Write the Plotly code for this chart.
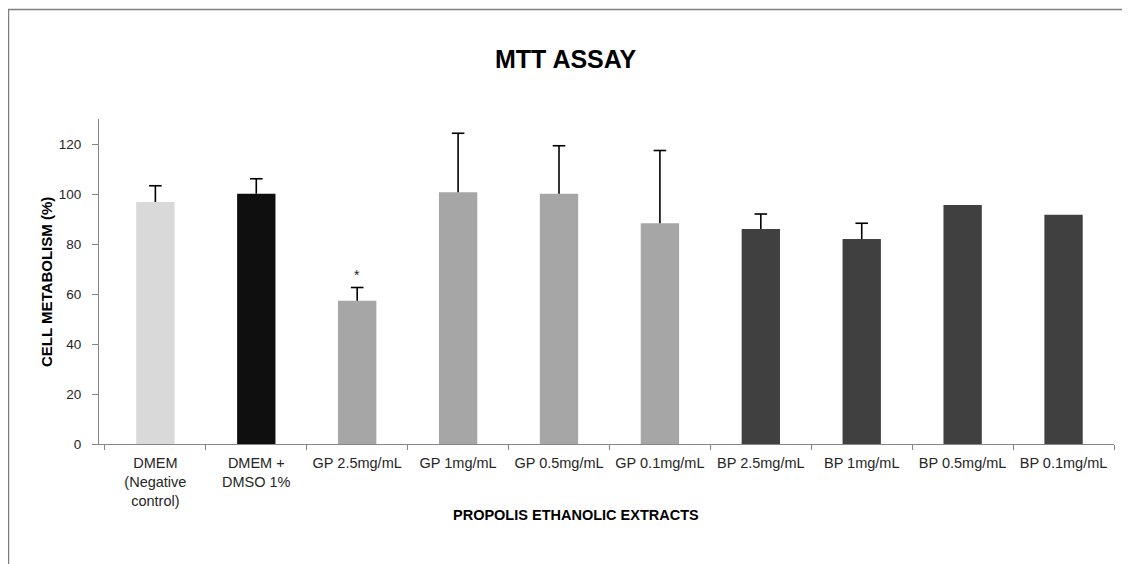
import plotly.graph_objects as go

categories = ["DMEM<br>(Negative<br>control)", "DMEM +<br>DMSO 1%", "GP 2.5mg/mL", "GP 1mg/mL",
              "GP 0.5mg/mL", "GP 0.1mg/mL", "BP 2.5mg/mL", "BP 1mg/mL", "BP 0.5mg/mL", "BP 0.1mg/mL"]
values = [96.8, 100.1, 57.3, 100.7, 100.1, 88.3, 86.0, 82.0, 95.6, 91.7]
errors = [6.5, 6.0, 5.3, 23.6, 19.2, 29.1, 6.0, 6.3, None, None]
bar_colors = ["#d9d9d9", "#0f0f0f", "#a6a6a6", "#a6a6a6", "#a6a6a6", "#a6a6a6",
              "#404040", "#404040", "#404040", "#404040"]
y_ticks = [0, 20, 40, 60, 80, 100, 120]
star_label = "*"
star_y = 67.5

# page has an 8px body margin; figure size/margins compensate for it
OFF = 8
W, H = 1130 - OFF, 564 - OFF
L, R, T, B = 99 - OFF, 16, 119 - OFF, 120
pw = W - L - R
ph = H - T - B


def px(ref_x):
    return (ref_x - OFF - L) / pw


def py(ref_y):
    return ((H - B) - (ref_y - OFF)) / ph


FONT = "Liberation Sans, Arial"

fig = go.Figure()
fig.add_trace(go.Bar(
    x=categories, y=values,
    marker=dict(color=bar_colors, line=dict(width=0)),
    width=0.38,
    error_y=dict(type="data", array=[e if e is not None else None for e in errors],
                 symmetric=False, arrayminus=[0] * len(values),
                 color="#000000", thickness=1.6, width=0),
    hoverinfo="x+y",
))

# caps at the top of the error bars
cap_x = [c for c, e in zip(categories, errors) if e is not None]
cap_y = [v + e for v, e in zip(values, errors) if e is not None]
fig.add_trace(go.Scatter(
    x=cap_x, y=cap_y, mode="markers",
    marker=dict(symbol="line-ew", size=9, line=dict(color="#000000", width=1.6)),
    hoverinfo="skip",
))

fig.add_annotation(x=categories[2], y=star_y, xref="x", yref="y", text=star_label,
                   showarrow=False, font=dict(family=FONT, size=14, color="#222222"))

# Title
fig.add_annotation(xref="paper", yref="paper", x=px(566), y=py(59),
                   text="<b>MTT ASSAY</b>", showarrow=False, xanchor="center", yanchor="middle",
                   font=dict(family=FONT, size=25, color="#000000"))
# Y-axis title
fig.add_annotation(xref="paper", yref="paper", x=px(46), y=py(282),
                   text="<b>CELL METABOLISM (%)</b>", showarrow=False, textangle=-90,
                   xanchor="center", yanchor="middle",
                   font=dict(family=FONT, size=15, color="#000000"))
# X-axis title
fig.add_annotation(xref="paper", yref="paper", x=px(576), y=py(515),
                   text="<b>PROPOLIS ETHANOLIC EXTRACTS</b>", showarrow=False,
                   xanchor="center", yanchor="middle",
                   font=dict(family=FONT, size=14.5, color="#000000"))

# outer frame (chart area border)
fig.add_shape(type="rect", xref="paper", yref="paper",
              x0=px(8.5), x1=px(1160), y0=py(600), y1=py(9.5),
              line=dict(color="#7f7f7f", width=1.5), fillcolor="rgba(0,0,0,0)", layer="below")

fig.update_layout(
    width=W, height=H,
    margin=dict(l=L, r=R, t=T, b=B, autoexpand=False),
    paper_bgcolor="white", plot_bgcolor="white",
    showlegend=False,
    font=dict(family=FONT, size=12, color="#262626"),
    xaxis=dict(showline=True, linecolor="#868686", linewidth=1,
               ticks="outside", tickson="boundaries", ticklen=5, tickcolor="#868686",
               showgrid=False, tickangle=0, ticklabelstandoff=6,
               tickfont=dict(family=FONT, size=14.5, color="#262626")),
    yaxis=dict(range=[0, 130], tickvals=y_ticks, showline=True, linecolor="#868686", linewidth=1,
               ticks="outside", ticklen=6, tickcolor="#868686", showgrid=False, zeroline=False,
               ticklabelstandoff=8,
               tickfont=dict(family=FONT, size=13.5, color="#262626")),
)

fig.write_html("out.html")
